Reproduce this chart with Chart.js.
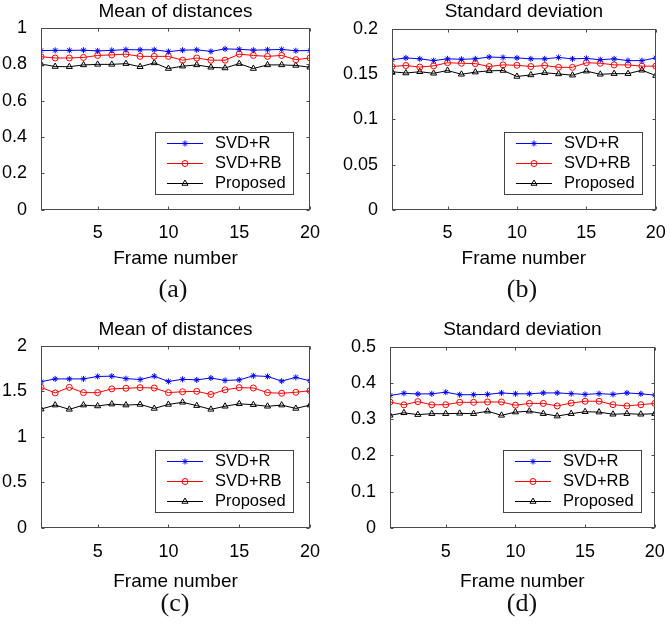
<!DOCTYPE html>
<html>
<head>
<meta charset="utf-8">
<script src="https://cdn.jsdelivr.net/npm/chart.js@4.4.1/dist/chart.umd.min.js"></script>
<style>
  html, body { margin: 0; padding: 0; background: #fff; }
  #wrap { position: relative; width: 670px; height: 632px; overflow: hidden; }
  canvas { position: absolute; }
  .cap { position: absolute; font-family: 'Liberation Serif', 'Times New Roman', serif; font-size: 26px; line-height: 30px; transform: translate(-50%, -50%); color: #111; }
</style>
</head>
<body>
<div id="wrap">
  <canvas id="pa" width="335" height="275" style="left:0;top:0"></canvas>
  <canvas id="pb" width="335" height="275" style="left:335px;top:0"></canvas>
  <canvas id="pc" width="335" height="290" style="left:0;top:310px"></canvas>
  <canvas id="pd" width="335" height="290" style="left:335px;top:310px"></canvas>
  <div class="cap" style="left:173px;top:289px">(a)</div>
  <div class="cap" style="left:522px;top:289px">(b)</div>
  <div class="cap" style="left:175px;top:603px">(c)</div>
  <div class="cap" style="left:522px;top:603px">(d)</div>
</div>
<script>
// frame index, shared by all four panels
const frames = [1, 2, 3, 4, 5, 6, 7, 8, 9, 10, 11, 12, 13, 14, 15, 16, 17, 18, 19, 20];
const xTicks = [5, 10, 15, 20];
const seriesNames = ['SVD+R', 'SVD+RB', 'Proposed'];

// (a) mean of distances
const yTicksA = [0, 0.2, 0.4, 0.6, 0.8, 1];
const distA_R = [0.876, 0.877, 0.877, 0.878, 0.874, 0.877, 0.881, 0.880, 0.880, 0.870, 0.878, 0.880, 0.871, 0.885, 0.883, 0.878, 0.880, 0.882, 0.875, 0.876];
const distA_RB = [0.842, 0.835, 0.835, 0.838, 0.849, 0.852, 0.856, 0.844, 0.844, 0.844, 0.823, 0.835, 0.823, 0.823, 0.856, 0.849, 0.844, 0.849, 0.826, 0.835];
const distA_P = [0.802, 0.788, 0.787, 0.797, 0.800, 0.800, 0.804, 0.787, 0.808, 0.777, 0.790, 0.797, 0.784, 0.780, 0.804, 0.777, 0.797, 0.797, 0.794, 0.784];

// (b) standard deviation
const yTicksB = [0, 0.05, 0.1, 0.15, 0.2];
const sdB_R = [0.166, 0.168, 0.167, 0.165, 0.167, 0.1665, 0.167, 0.169, 0.1685, 0.168, 0.167, 0.167, 0.1685, 0.167, 0.1675, 0.166, 0.167, 0.165, 0.165, 0.168];
const sdB_RB = [0.1585, 0.1596, 0.1579, 0.1592, 0.1627, 0.1621, 0.1617, 0.1585, 0.1603, 0.1599, 0.1585, 0.1596, 0.1576, 0.1576, 0.1627, 0.1621, 0.1603, 0.1603, 0.1589, 0.1589];
const sdB_P = [0.1527, 0.1513, 0.1527, 0.1510, 0.1541, 0.1499, 0.1523, 0.1537, 0.1541, 0.1475, 0.1492, 0.1516, 0.1503, 0.1489, 0.1534, 0.1499, 0.1506, 0.1506, 0.1544, 0.1485];

// (c) mean of distances
const yTicksC = [0, 0.5, 1, 1.5, 2];
const distC_R = [1.607, 1.638, 1.638, 1.638, 1.665, 1.668, 1.641, 1.631, 1.668, 1.610, 1.634, 1.627, 1.648, 1.621, 1.627, 1.672, 1.665, 1.614, 1.655, 1.617];
const distC_RB = [1.545, 1.484, 1.545, 1.487, 1.487, 1.528, 1.535, 1.542, 1.538, 1.487, 1.497, 1.501, 1.467, 1.518, 1.542, 1.538, 1.487, 1.480, 1.491, 1.508];
const distC_P = [1.306, 1.350, 1.303, 1.350, 1.340, 1.361, 1.350, 1.357, 1.313, 1.357, 1.381, 1.344, 1.303, 1.337, 1.364, 1.354, 1.337, 1.350, 1.313, 1.350];

// (d) standard deviation
const yTicksD = [0, 0.1, 0.2, 0.3, 0.4, 0.5];
const sdD_R = [0.366, 0.372, 0.370, 0.3705, 0.375, 0.368, 0.368, 0.369, 0.373, 0.3705, 0.3705, 0.373, 0.373, 0.371, 0.369, 0.371, 0.369, 0.373, 0.3705, 0.367];
const sdD_RB = [0.348, 0.340, 0.349, 0.340, 0.3405, 0.347, 0.347, 0.348, 0.348, 0.339, 0.344, 0.344, 0.337, 0.345, 0.350, 0.350, 0.3405, 0.337, 0.3405, 0.344];
const sdD_P = [0.311, 0.318, 0.313, 0.3156, 0.3156, 0.3165, 0.3156, 0.3225, 0.311, 0.320, 0.3225, 0.3156, 0.309, 0.3156, 0.321, 0.320, 0.314, 0.3156, 0.314, 0.3156];

Chart.defaults.font.family = "'Liberation Sans', Arial, sans-serif";
Chart.defaults.color = '#000';

const styles = [
  { color: '#0000ff', point: 'star', r: 3 },
  { color: '#ff0000', point: 'circle', r: 3 },
  { color: '#000000', point: 'triangle', r: 3.5 }
];

// box + inward ticks on all 4 sides, like matlab axes
const boxPlugin = {
  id: 'matlabBox',
  afterDatasetsDraw(chart) {
    const ctx = chart.ctx, a = chart.chartArea;
    const L = Math.round(a.left) + 0.5, R = Math.round(a.right) - 0.5;
    const T = Math.round(a.top) + 0.5, B = Math.round(a.bottom) - 0.5;
    const tl = 3;
    ctx.save();
    ctx.strokeStyle = '#4a4a4a';
    ctx.lineWidth = 1;
    ctx.beginPath();
    chart.scales.x.ticks.forEach(t => {
      const px = Math.round(chart.scales.x.getPixelForValue(t.value)) + 0.5;
      ctx.moveTo(px, B); ctx.lineTo(px, B - tl);
      ctx.moveTo(px, T); ctx.lineTo(px, T + tl);
    });
    chart.scales.y.ticks.forEach(t => {
      const py = Math.round(chart.scales.y.getPixelForValue(t.value)) + 0.5;
      ctx.moveTo(L, py); ctx.lineTo(L + tl, py);
      ctx.moveTo(R, py); ctx.lineTo(R - tl, py);
    });
    ctx.stroke();
    ctx.strokeRect(L, T, R - L, B - T);
    ctx.restore();
  },
  afterDraw(chart, args, opts) {
    const ctx = chart.ctx, a = chart.chartArea;
    const w = 138, h = 62;
    const x = Math.round(a.right - opts.gapR - w), y = Math.round(a.bottom - 16 - h);
    ctx.save();
    ctx.fillStyle = '#fff';
    ctx.fillRect(x, y, w, h);
    ctx.strokeStyle = '#444';
    ctx.lineWidth = 1;
    ctx.strokeRect(x + 0.5, y + 0.5, w, h);
    chart.data.datasets.forEach((ds, i) => {
      const cy = y + 11.5 + i * 20;
      ctx.strokeStyle = ds.borderColor;
      ctx.lineWidth = 1;
      ctx.beginPath();
      ctx.moveTo(x + 12, cy);
      ctx.lineTo(x + 48, cy);
      ctx.stroke();
      ctx.fillStyle = 'rgba(0,0,0,0)';
      if (Chart.helpers && Chart.helpers.drawPoint) {
        Chart.helpers.drawPoint(ctx, { pointStyle: ds.pointStyle, radius: ds.pointRadius, borderWidth: 1, rotation: 0 }, x + 30, cy);
      }
      ctx.fillStyle = '#000';
      ctx.font = "16.5px 'Liberation Sans', Arial, sans-serif";
      ctx.textBaseline = 'middle';
      ctx.textAlign = 'left';
      ctx.fillText(ds.label, x + 60, cy);
    });
    ctx.restore();
  }
};

function fmt(v) {
  return String(+Number(v).toFixed(4));
}

function makePanel(p) {
  const datasets = p.series.map((arr, i) => ({
    label: seriesNames[i],
    data: frames.map((f, k) => ({ x: f, y: arr[k] })),
    borderColor: styles[i].color,
    backgroundColor: 'rgba(0,0,0,0)',
    borderWidth: 1,
    pointStyle: styles[i].point,
    pointRadius: styles[i].r,
    pointBorderWidth: 1,
    pointBorderColor: styles[i].color,
    pointBackgroundColor: 'rgba(0,0,0,0)',
    tension: 0
  }));

  new Chart(document.getElementById(p.id), {
    type: 'line',
    data: { datasets: datasets },
    plugins: [boxPlugin],
    options: {
      responsive: false,
      animation: false,
      devicePixelRatio: 1,
      layout: { padding: { left: 0, right: p.padR, top: 0, bottom: p.padB } },
      plugins: {
        legend: { display: false },
        tooltip: { enabled: false },
        title: {
          display: true,
          text: p.title,
          fullSize: false,
          font: { size: 19, weight: 'normal' },
          padding: { top: p.titleT, bottom: p.titleB }
        },
        matlabBox: { gapR: p.gapR }
      },
      scales: {
        x: {
          type: 'linear',
          min: 1,
          max: 20,
          grid: { display: false },
          border: { display: false },
          afterBuildTicks: s => { s.ticks = xTicks.map(v => ({ value: v })); },
          ticks: { font: { size: 18 }, padding: p.tickPad, maxRotation: 0, callback: v => fmt(v) },
          title: { display: true, text: 'Frame number', font: { size: 19 }, padding: { top: p.xTitleT, bottom: 0 } }
        },
        y: {
          min: p.yTicks[0],
          max: p.yTicks[p.yTicks.length - 1],
          grid: { display: false },
          border: { display: false },
          afterBuildTicks: s => { s.ticks = p.yTicks.map(v => ({ value: v })); },
          afterFit: s => { s.width = p.left; },
          ticks: { font: { size: 18 }, padding: 6, callback: v => fmt(v) }
        }
      }
    }
  });
}

const panels = [
  { id: 'pa', title: 'Mean of distances', yTicks: yTicksA, series: [distA_R, distA_RB, distA_P],
    left: 41, padR: 25, padB: 4.4, titleT: 0.6, titleB: 4.6, tickPad: 4.2, xTitleT: 0, gapR: 17 },
  { id: 'pb', title: 'Standard deviation', yTicks: yTicksB, series: [sdB_R, sdB_RB, sdB_P],
    left: 57, padR: 11, padB: 4.4, titleT: 0.6, titleB: 5.6, tickPad: 4.2, xTitleT: 0, gapR: 14 },
  { id: 'pc', title: 'Mean of distances', yTicks: yTicksC, series: [distC_R, distC_RB, distC_P],
    left: 41, padR: 25, padB: 6.6, titleT: 8.6, titleB: 4.6, tickPad: 5.2, xTitleT: 2.8, gapR: 17 },
  { id: 'pd', title: 'Standard deviation', yTicks: yTicksD, series: [sdD_R, sdD_RB, sdD_P],
    left: 55, padR: 11, padB: 6.6, titleT: 8.6, titleB: 5.6, tickPad: 5.2, xTitleT: 2.8, gapR: 14 }
];

panels.forEach(makePanel);
</script>
</body>
</html>
